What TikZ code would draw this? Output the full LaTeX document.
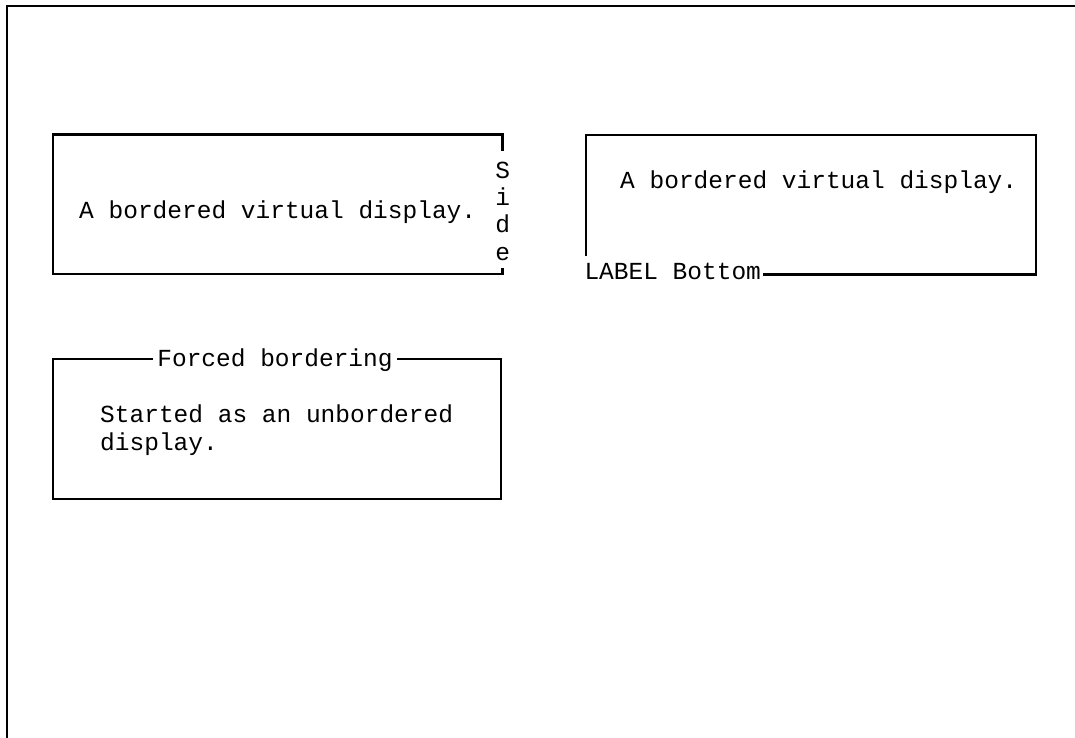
\documentclass[tikz,border=0pt]{standalone}
\usepackage{fontspec}
\setmonofont{Liberation Mono}
\begin{document}
\begin{tikzpicture}[x=1pt,y=-1pt,
  every node/.style={font=\fontsize{24.5}{27.2}\selectfont\ttfamily, inner sep=0pt, text=black},
  frameline/.style={line width=2.4pt},
  boxline/.style={line width=2.3pt, line join=miter}]
\useasboundingbox (0,0) rectangle (1075,738);
% outer frame
\draw[frameline] (7,738) -- (7,6) -- (1075,6);

% box 1 with vertical "Side" label
\node[anchor=base west] (t1) at (79,218.5) {A bordered virtual display.};
\node[anchor=base] (sS) at (502.6,178.5) {S};
\node[anchor=base] (si) at (502.6,205.7) {i};
\node[anchor=base] (sd) at (502.6,232.9) {d};
\node[anchor=base] (se) at (502.6,260.1) {e};
\draw[boxline] (502.6,151) -- (502.6,134.5) -- (52.7,134.5) -- (52.7,274.3) -- (502.6,274.3) -- (502.6,267.5);

% box 2 with bottom label
\node[anchor=base west] (t2) at (620,188.3) {A bordered virtual display.};
\node[anchor=base west] (lab) at (584.3,279.3) {LABEL Bottom};
\draw[boxline] (585.7,256) -- (585.7,135) -- (1035.7,135) -- (1035.7,274.6) -- ([xshift=2pt,yshift=4.7pt]lab.base east);

% box 3 with title
\node[anchor=base, inner xsep=4.5pt] (title) at (275,366) {Forced bordering};
\draw[boxline] ([yshift=7pt]title.base west) -- (52.7,359) -- (52.7,499) -- (501,499) -- (501,359) -- ([yshift=7pt]title.base east);
\node[anchor=base west] (s1) at (100,422.5) {Started as an unbordered};
\node[anchor=base west] (s2) at (100,450) {display.};
\end{tikzpicture}
\end{document}
